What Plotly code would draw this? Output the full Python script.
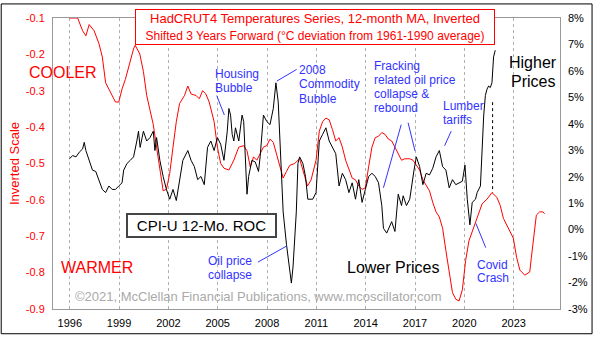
import plotly.graph_objects as go

# ---------------- data ----------------
red_years = [1995.98, 1996.48, 1996.78, 1996.98, 1997.18, 1997.48, 1997.78, 1997.98, 1998.18, 1998.38,
             1998.58, 1998.78, 1998.98, 1999.18, 1999.38, 1999.58, 1999.88, 1999.98, 2000.26, 2000.48,
             2000.68, 2000.88, 2001.08, 2001.28, 2001.48, 2001.68, 2001.88, 2002.08, 2002.28, 2002.48,
             2002.68, 2002.98, 2003.18, 2003.38, 2003.68, 2003.88, 2004.08, 2004.28, 2004.48, 2004.78,
             2004.98, 2005.18, 2005.38, 2005.68, 2005.98, 2006.28, 2006.58, 2006.78, 2006.98, 2007.18,
             2007.38, 2007.58, 2007.78, 2007.98, 2008.18, 2008.38, 2008.58, 2008.78, 2008.98, 2009.18,
             2009.38, 2009.68, 2009.98, 2010.18, 2010.46, 2010.68, 2010.98, 2011.18, 2011.38, 2011.58,
             2011.78, 2011.98, 2012.18, 2012.38, 2012.58, 2012.78, 2012.98, 2013.18, 2013.38, 2013.58,
             2013.78, 2013.98, 2014.18, 2014.38, 2014.58, 2014.78, 2014.98, 2015.18, 2015.38, 2015.58,
             2015.78, 2015.98, 2016.18, 2016.38, 2016.68, 2016.88, 2017.08, 2017.28, 2017.48, 2017.68,
             2017.88, 2018.08, 2018.28, 2018.48, 2018.68, 2018.88, 2019.08, 2019.28, 2019.48, 2019.68,
             2019.88, 2020.08, 2020.28, 2020.48, 2020.68, 2020.88, 2021.08, 2021.38, 2021.68, 2021.98,
             2022.18, 2022.38, 2022.68, 2022.98, 2023.18, 2023.38, 2023.68, 2023.98, 2024.08, 2024.28,
             2024.38, 2024.58, 2024.78, 2024.88]
hadcrut_inverted = [-0.100, -0.100, -0.135, -0.149, -0.118, -0.135, -0.171, -0.207, -0.278, -0.295,
                    -0.313, -0.331, -0.331, -0.295, -0.269, -0.233, -0.185, -0.175, -0.199, -0.247,
                    -0.313, -0.353, -0.393, -0.455, -0.518, -0.575, -0.571, -0.527, -0.455, -0.385,
                    -0.335, -0.313, -0.287, -0.309, -0.313, -0.322, -0.300, -0.309, -0.331, -0.385,
                    -0.455, -0.500, -0.513, -0.518, -0.491, -0.455, -0.451, -0.465, -0.509, -0.482,
                    -0.491, -0.473, -0.455, -0.451, -0.433, -0.442, -0.473, -0.509, -0.540, -0.522,
                    -0.505, -0.500, -0.487, -0.518, -0.562, -0.545, -0.491, -0.411, -0.385, -0.375,
                    -0.380, -0.407, -0.438, -0.429, -0.455, -0.491, -0.518, -0.540, -0.545, -0.562,
                    -0.571, -0.567, -0.509, -0.455, -0.429, -0.425, -0.415, -0.420, -0.433, -0.438,
                    -0.455, -0.473, -0.491, -0.487, -0.487, -0.491, -0.505, -0.518, -0.545, -0.562,
                    -0.575, -0.607, -0.633, -0.647, -0.678, -0.740, -0.802, -0.855, -0.873, -0.878,
                    -0.847, -0.767, -0.713, -0.687, -0.660, -0.633, -0.611, -0.598, -0.580, -0.593,
                    -0.615, -0.651, -0.678, -0.705, -0.758, -0.793, -0.807, -0.798, -0.758, -0.687,
                    -0.642, -0.633, -0.633, -0.638]

cpi_years = [1995.98, 1996.18, 1996.38, 1996.58, 1996.78, 1996.88, 1996.98, 1997.18, 1997.38, 1997.58,
             1997.78, 1997.98, 1998.18, 1998.38, 1998.58, 1998.78, 1998.98, 1999.18, 1999.28, 1999.48,
             1999.68, 1999.88, 2000.08, 2000.18, 2000.28, 2000.48, 2000.68, 2000.88, 2001.08, 2001.18,
             2001.28, 2001.48, 2001.68, 2001.88, 2002.08, 2002.28, 2002.48, 2002.68, 2002.88, 2003.18,
             2003.38, 2003.58, 2003.78, 2003.98, 2004.18, 2004.38, 2004.58, 2004.78, 2004.98, 2005.18,
             2005.38, 2005.58, 2005.68, 2005.78, 2005.88, 2005.98, 2006.08, 2006.28, 2006.48, 2006.58,
             2006.68, 2006.78, 2006.88, 2007.08, 2007.28, 2007.48, 2007.58, 2007.78, 2007.98, 2008.18,
             2008.38, 2008.54, 2008.68, 2008.78, 2008.88, 2008.98, 2009.18, 2009.38, 2009.48, 2009.58,
             2009.78, 2009.88, 2009.98, 2010.18, 2010.34, 2010.48, 2010.78, 2010.98, 2011.18, 2011.38,
             2011.58, 2011.78, 2011.98, 2012.18, 2012.38, 2012.58, 2012.78, 2012.98, 2013.18, 2013.38,
             2013.58, 2013.78, 2013.98, 2014.18, 2014.38, 2014.58, 2014.78, 2014.98, 2015.08, 2015.28,
             2015.58, 2015.78, 2015.98, 2016.18, 2016.28, 2016.48, 2016.68, 2016.78, 2016.94, 2017.08,
             2017.28, 2017.48, 2017.68, 2017.88, 2018.08, 2018.28, 2018.48, 2018.68, 2018.88, 2019.08,
             2019.28, 2019.48, 2019.68, 2019.88, 2020.04, 2020.18, 2020.34, 2020.48, 2020.68, 2020.78,
             2020.98, 2021.08, 2021.18, 2021.28, 2021.38, 2021.48, 2021.58, 2021.68, 2021.72, 2021.78,
             2021.88]
cpi_roc = [2.68, 2.80, 2.75, 2.93, 3.05, 3.30, 2.99, 2.62, 2.25, 2.20,
           1.89, 1.52, 1.40, 1.65, 1.52, 1.52, 1.65, 1.77, 2.25, 2.50,
           2.62, 2.75, 3.35, 3.72, 3.11, 3.72, 3.35, 3.48, 3.72, 2.99,
           3.48, 2.62, 2.01, 1.52, 1.15, 1.52, 1.10, 1.89, 2.62, 2.99,
           2.62, 2.38, 1.89, 2.01, 1.70, 3.11, 3.35, 2.99, 3.48, 3.23,
           2.62, 3.72, 4.58, 4.33, 3.60, 3.35, 3.85, 3.35, 4.33, 4.09,
           2.62, 1.34, 2.01, 2.62, 2.56, 2.20, 2.75, 4.33, 4.09, 3.97,
           4.58, 5.55, 4.82, 3.35, 1.89, 0.67, -0.55, -1.41, -2.02, -1.41,
           0.67, 2.50, 2.75, 2.50, 2.01, 1.15, 1.15, 1.40, 3.35, 3.60,
           3.85, 3.35, 3.11, 2.87, 1.65, 2.13, 1.89, 1.40, 1.77, 1.15,
           1.89, 1.03, 1.52, 2.01, 2.13, 2.01, 1.77, 0.91, 0.05, -0.13,
           0.30, -0.07, 1.34, 0.91, 1.28, 0.91, 1.15, 1.65, 2.25, 2.75,
           2.38, 1.70, 2.13, 2.07, 2.32, 2.75, 2.99, 2.38, 2.25, 1.58,
           1.89, 1.70, 1.77, 1.83, 2.44, 1.15, 0.18, 1.03, 1.15, 1.40,
           1.65, 3.11, 4.33, 5.07, 5.31, 5.43, 5.37, 5.55, 5.92, 6.53,
           6.78]

x_ticks = [1996, 1999, 2002, 2005, 2008, 2011, 2014, 2017, 2020, 2023]
left_ticks = [-0.1, -0.2, -0.3, -0.4, -0.5, -0.6, -0.7, -0.8, -0.9]
right_ticks = [8, 7, 6, 5, 4, 3, 2, 1, 0, -1, -2, -3]

# ---------------- layout helpers ----------------
W, H = 600, 341
L, R, T, B = 53, 567, 15, 315
FONT = "Liberation Sans, Arial, sans-serif"
RED = "#ff0000"
BLUE = "#3333ff"


def px(x, y):
    return (x - L) / (R - L), (B - y) / (B - T)


fig = go.Figure()
fig.add_trace(go.Scatter(x=red_years, y=hadcrut_inverted, mode="lines",
                         line=dict(color=RED, width=1), yaxis="y", hoverinfo="skip"))
fig.add_trace(go.Scatter(x=cpi_years, y=cpi_roc, mode="lines",
                         line=dict(color="#000000", width=1), yaxis="y2", hoverinfo="skip"))

annotations = []
shapes = []


def text(t, x, y, color, size, xanchor="left", yanchor="middle", **kw):
    ax, ay = px(x, y)
    annotations.append(dict(text=t, x=ax, y=ay, xref="paper", yref="paper", showarrow=False,
                            xanchor=xanchor, yanchor=yanchor,
                            font=dict(family=FONT, size=size, color=color), **kw))


def lines(lst, x, y0, dy, color, size, xanchor="left"):
    for i, t in enumerate(lst):
        text(t, x, y0 + i * dy, color, size, xanchor=xanchor)


def seg(x0, y0, x1, y1, color=BLUE, width=1, dash="solid"):
    a0, b0 = px(x0, y0)
    a1, b1 = px(x1, y1)
    shapes.append(dict(type="line", xref="paper", yref="paper", x0=a0, y0=b0, x1=a1, y1=b1,
                       line=dict(color=color, width=width, dash=dash)))


# title box
text("HadCRUT4 Temperatures Series, 12-month MA, Inverted<br>"
     "<span style='font-size:12px'>Shifted 3 Years Forward (°C deviation from 1961-1990 average)</span>",
     318.5, 24, RED, 13, xanchor="center", bgcolor="white", bordercolor=RED, borderwidth=1,
     borderpad=1, width=356)

text("COOLER", 27, 71, RED, 16)
text("WARMER", 59, 272, RED, 16)
text("Inverted Scale", 14, 165, RED, 13, xanchor="center", textangle=-90)

text("CPI-U 12-Mo. ROC", 203.5, 228.5, "#000000", 15, xanchor="center", bgcolor="white",
     bordercolor="#444444", borderwidth=2, borderpad=2, width=143)

lines(["Housing", "Bubble"], 215, 73, 14, BLUE, 12)
lines(["2008", "Commodity", "Bubble"], 300, 69, 14.5, BLUE, 12)
lines(["Fracking", "related oil price", "collapse &", "rebound"], 376.5, 65, 14.3, BLUE, 12)
lines(["Lumber", "tariffs"], 446.5, 106, 14, BLUE, 12)
lines(["Oil price", "collapse"], 208, 266, 14, BLUE, 12)
lines(["Covid", "Crash"], 481, 269.5, 14, BLUE, 12)
lines(["Higher", "Prices"], 540, 61, 19, "#000000", 16, xanchor="center")
text("Lower Prices", 397.5, 272, "#000000", 16, xanchor="center")
text("©2021, McClellan Financial Publications, www.mcoscillator.com", 261, 302, "#aaaaaa", 13,
     xanchor="center")

# pointer lines
seg(219, 95, 226.7, 115)
seg(300, 68, 280, 80)
seg(388, 190, 406, 125)
seg(413, 123, 420, 152)
seg(456.7, 131.7, 450, 146.7)
seg(260.7, 266.7, 290, 250)
seg(481.7, 226.7, 491.7, 251.7)

# dotted connector between CPI and temperature peaks
shapes.append(dict(type="line", xref="x", yref="y2", x0=2021.72, x1=2021.72, y0=4.82, y1=1.40,
                   line=dict(color="#000000", width=1, dash="dot")))

# outer frame of the whole picture
fx0, fy0 = px(0.5, 340.5)
fx1, fy1 = px(599.5, 0.5)
shapes.append(dict(type="rect", xref="paper", yref="paper", x0=fx0, y0=fy0, x1=fx1, y1=fy1,
                   line=dict(color="#000000", width=1), layer="above"))

fig.update_layout(
    width=W, height=H,
    margin=dict(l=L, r=W - R, t=T, b=H - B, pad=0),
    paper_bgcolor="white", plot_bgcolor="white",
    showlegend=False,
    font=dict(family=FONT, size=11, color="#000000"),
    xaxis=dict(range=[1994.98, 2025.82], tickvals=x_ticks, ticktext=[str(v) for v in x_ticks],
               showgrid=True, gridcolor="#b0b0b0", gridwidth=1, griddash="dot",
               showline=True, linecolor="#999999", linewidth=1, mirror=True, zeroline=False,
               ticks="", tickfont=dict(size=11, color="#000000"), ticklabelstandoff=4),
    yaxis=dict(range=[-0.9, -0.1], tickvals=left_ticks, ticktext=[f"{v:.1f}" for v in left_ticks],
               showgrid=False, zeroline=False, showline=True, linecolor="#999999", linewidth=1,
               mirror=True, ticks="", tickfont=dict(size=11, color=RED), ticklabelstandoff=5),
    yaxis2=dict(range=[-3, 8], overlaying="y", side="right", tickvals=right_ticks,
                ticktext=[f"{v}%" for v in right_ticks], showgrid=False, zeroline=False,
                showline=False, ticks="", tickfont=dict(size=11, color="#000000"),
                ticklabelstandoff=7),
    annotations=annotations,
    shapes=shapes,
)

fig.write_html("out.html")
